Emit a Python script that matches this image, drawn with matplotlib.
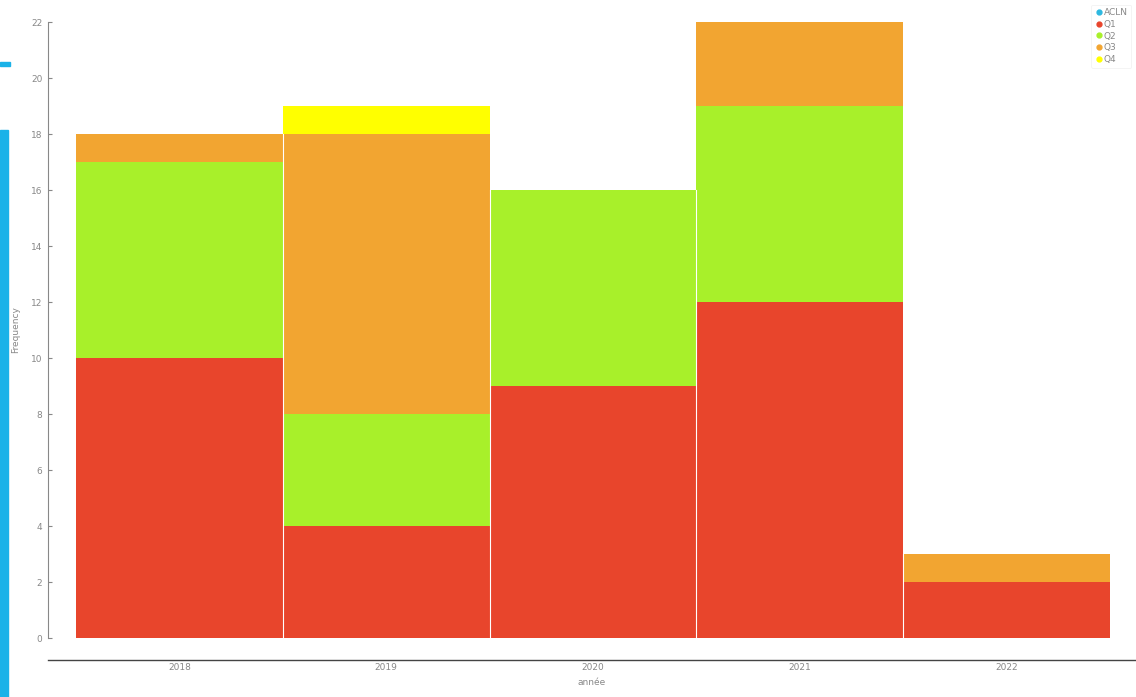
import matplotlib.pyplot as plt
from matplotlib.patches import Rectangle
from matplotlib.lines import Line2D
import numpy as np

# Counts per year and quarter (stacked)
years = ['2018', '2019', '2020', '2021', '2022']
series = ['ACLN', 'Q1', 'Q2', 'Q3', 'Q4']
acln = [0, 0, 0, 0, 0]
q1 = [10, 4, 9, 12, 2]
q2 = [7, 4, 7, 7, 0]
q3 = [1, 10, 0, 3, 1]
q4 = [0, 1, 0, 0, 0]
colors = ['#2DB8E0', '#E8452C', '#A8F02A', '#F2A531', '#FFFF00']

fig = plt.figure(figsize=(11.36, 6.97), dpi=100)
W, H = 1136, 697
ax = fig.add_axes([48 / W, 1 - 638 / H, (1136 - 48) / W, (638 - 22) / H])

x = np.arange(len(years))
bottom = np.zeros(len(years))
for name, vals, col in zip(series, [acln, q1, q2, q3, q4], colors):
    ax.bar(x, vals, width=1.0, bottom=bottom, color=col, linewidth=0,
           label=name)
    bottom += np.array(vals)

# thin white separators between neighbouring bars
for i in range(len(years) - 1):
    top = min(bottom[i], bottom[i + 1])
    ax.plot([x[i] + 0.5, x[i] + 0.5], [0, top], color='white', lw=0.8)

ax.set_xlim(-0.635, 4.626)
ax.set_ylim(0, 22)
ax.set_yticks(range(0, 23, 2))
ax.set_xticks(x)
ax.set_xticklabels(years)

for s in ['top', 'right']:
    ax.spines[s].set_visible(False)
ax.spines['left'].set_color('#888888')
ax.spines['left'].set_linewidth(0.8)
ax.spines['bottom'].set_position(('outward', 16))
ax.spines['bottom'].set_color('#444444')
ax.spines['bottom'].set_linewidth(1.0)
ax.tick_params(axis='y', direction='in', length=3, color='#888888',
               labelsize=6.5, labelcolor='#888888', pad=4)
ax.tick_params(axis='x', length=0, labelsize=6.5, labelcolor='#888888', pad=2)

ax.set_ylabel('Frequency', fontsize=6.5, color='#888888', labelpad=8)
ax.set_xlabel('année', fontsize=6.5, color='#888888', labelpad=4)

handles = [Line2D([], [], marker='o', linestyle='', markersize=3.5, color=c)
           for c in colors]
leg = fig.legend(handles, series, loc='upper right', bbox_to_anchor=(1.0, 1.0),
                 fontsize=6.5, frameon=True, handletextpad=0.0, labelspacing=0.3,
                 borderpad=0.4, handlelength=1.0)
leg.get_frame().set_edgecolor('#f0f0f0')
leg.get_frame().set_linewidth(0.6)
for t in leg.get_texts():
    t.set_color('#888888')

# cyan strip at the left edge of the screenshot
fig.patches.append(Rectangle((0, 0), 8 / W, 1 - 130 / H, transform=fig.transFigure,
                             color='#1AB2E8', zorder=0))
fig.patches.append(Rectangle((0, 1 - 66 / H), 10 / W, 4 / H, transform=fig.transFigure,
                             color='#1AB2E8', zorder=0))

fig.savefig('out.png', dpi=100)
